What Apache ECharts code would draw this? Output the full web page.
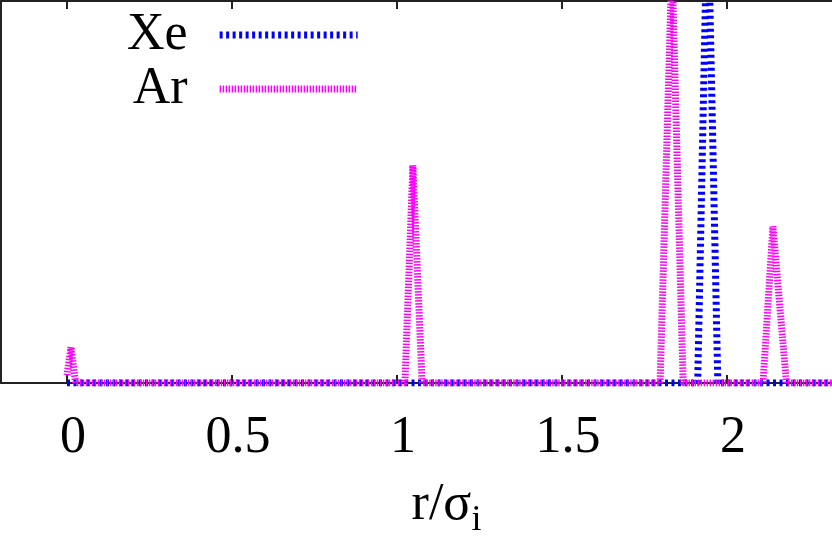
<!DOCTYPE html>
<html>
<head>
<meta charset="utf-8">
<script src="https://cdn.jsdelivr.net/npm/echarts@6/dist/echarts.min.js"></script>
<style>
  html, body { margin: 0; padding: 0; background: #fff; }
  #chart { width: 832px; height: 540px; }
</style>
</head>
<body>
<div id="chart"></div>
<script>
// r / sigma_i sample points and peak heights
const xeR = [0, 1.911, 1.941, 1.972, 2.35]
const xeG = [0, 0, 12.8, 0, 0]

const arR = [0, 0.012, 0.026, 1.024, 1.048, 1.076, 1.797, 1.833, 1.867, 2.109, 2.139, 2.18, 2.35]
const arG = [0.2, 0.94, 0, 0, 5.7, 0, 0, 11, 0, 0, 4.1, 0, 0]

const tickVals = [0, 0.5, 1, 1.5, 2]

const serif = 'Liberation Serif'
const axisColor = '#222'

const chart = echarts.init(document.getElementById('chart'))

const pairs = (xs, ys) => xs.map((x, i) => [x, ys[i]])

// plot runs off the right edge of the picture
const xMin = -0.2
const xMax = 2.318

const option = {
  animation: false,
  grid: { left: 1, top: 1, right: 0, bottom: 157, outerBoundsMode: 'none', containLabel: false },
  legend: {
    orient: 'vertical',
    align: 'right',
    left: 127,
    top: 9,
    padding: 0,
    itemGap: 2,
    itemWidth: 138,
    itemHeight: 14,
    lineStyle: { width: 7 },
    itemStyle: { opacity: 0 },
    textStyle: { fontFamily: serif, fontSize: 52, color: '#000', padding: [0, 27, 0, 0] },
    data: ['Xe', 'Ar']
  },
  xAxis: [
    {
      type: 'value',
      min: xMin,
      max: xMax,
      position: 'bottom',
      axisLine: { onZero: false, lineStyle: { color: axisColor, width: 2 } },
      axisTick: { inside: true, length: 8, customValues: tickVals, lineStyle: { color: axisColor, width: 2 } },
      axisLabel: {
        customValues: tickVals,
        fontFamily: serif,
        fontSize: 52,
        color: '#000',
        margin: 29,
        padding: [0, 0, 0, 12]
      },
      splitLine: { show: false },
      name: '{m|r/σ}{s|i}',
      nameLocation: 'middle',
      nameGap: 96,
      nameTextStyle: {
        padding: [0, 0, 0, 60],
        rich: {
          m: { fontFamily: serif, fontSize: 52, color: '#000', lineHeight: 60, verticalAlign: 'top' },
          s: { fontFamily: serif, fontSize: 36, color: '#000', lineHeight: 14, verticalAlign: 'bottom' }
        }
      }
    },
    {
      type: 'value',
      min: xMin,
      max: xMax,
      position: 'top',
      axisLine: { onZero: false, lineStyle: { color: axisColor, width: 2 } },
      axisTick: { inside: true, length: 8, customValues: tickVals, lineStyle: { color: axisColor, width: 2 } },
      axisLabel: { show: false },
      splitLine: { show: false }
    }
  ],
  yAxis: {
    type: 'value',
    min: 0,
    max: 10,
    axisLine: { show: true, onZero: false, lineStyle: { color: axisColor, width: 2 } },
    axisTick: { show: false },
    axisLabel: { show: false },
    splitLine: { show: false }
  },
  series: [
    {
      name: 'Xe',
      type: 'line',
      symbol: 'none',
      clip: true,
      lineStyle: { color: '#0000ff', width: 7, type: [3, 3.5], cap: 'butt', join: 'bevel' },
      itemStyle: { color: '#0000ff' },
      data: pairs(xeR, xeG)
    },
    {
      name: 'Ar',
      type: 'line',
      symbol: 'none',
      clip: true,
      lineStyle: { color: '#ff00ff', width: 7, type: [1.5, 1.5], cap: 'butt', join: 'bevel' },
      itemStyle: { color: '#ff00ff' },
      data: pairs(arR, arG)
    }
  ]
}

chart.setOption(option)
</script>
</body>
</html>
